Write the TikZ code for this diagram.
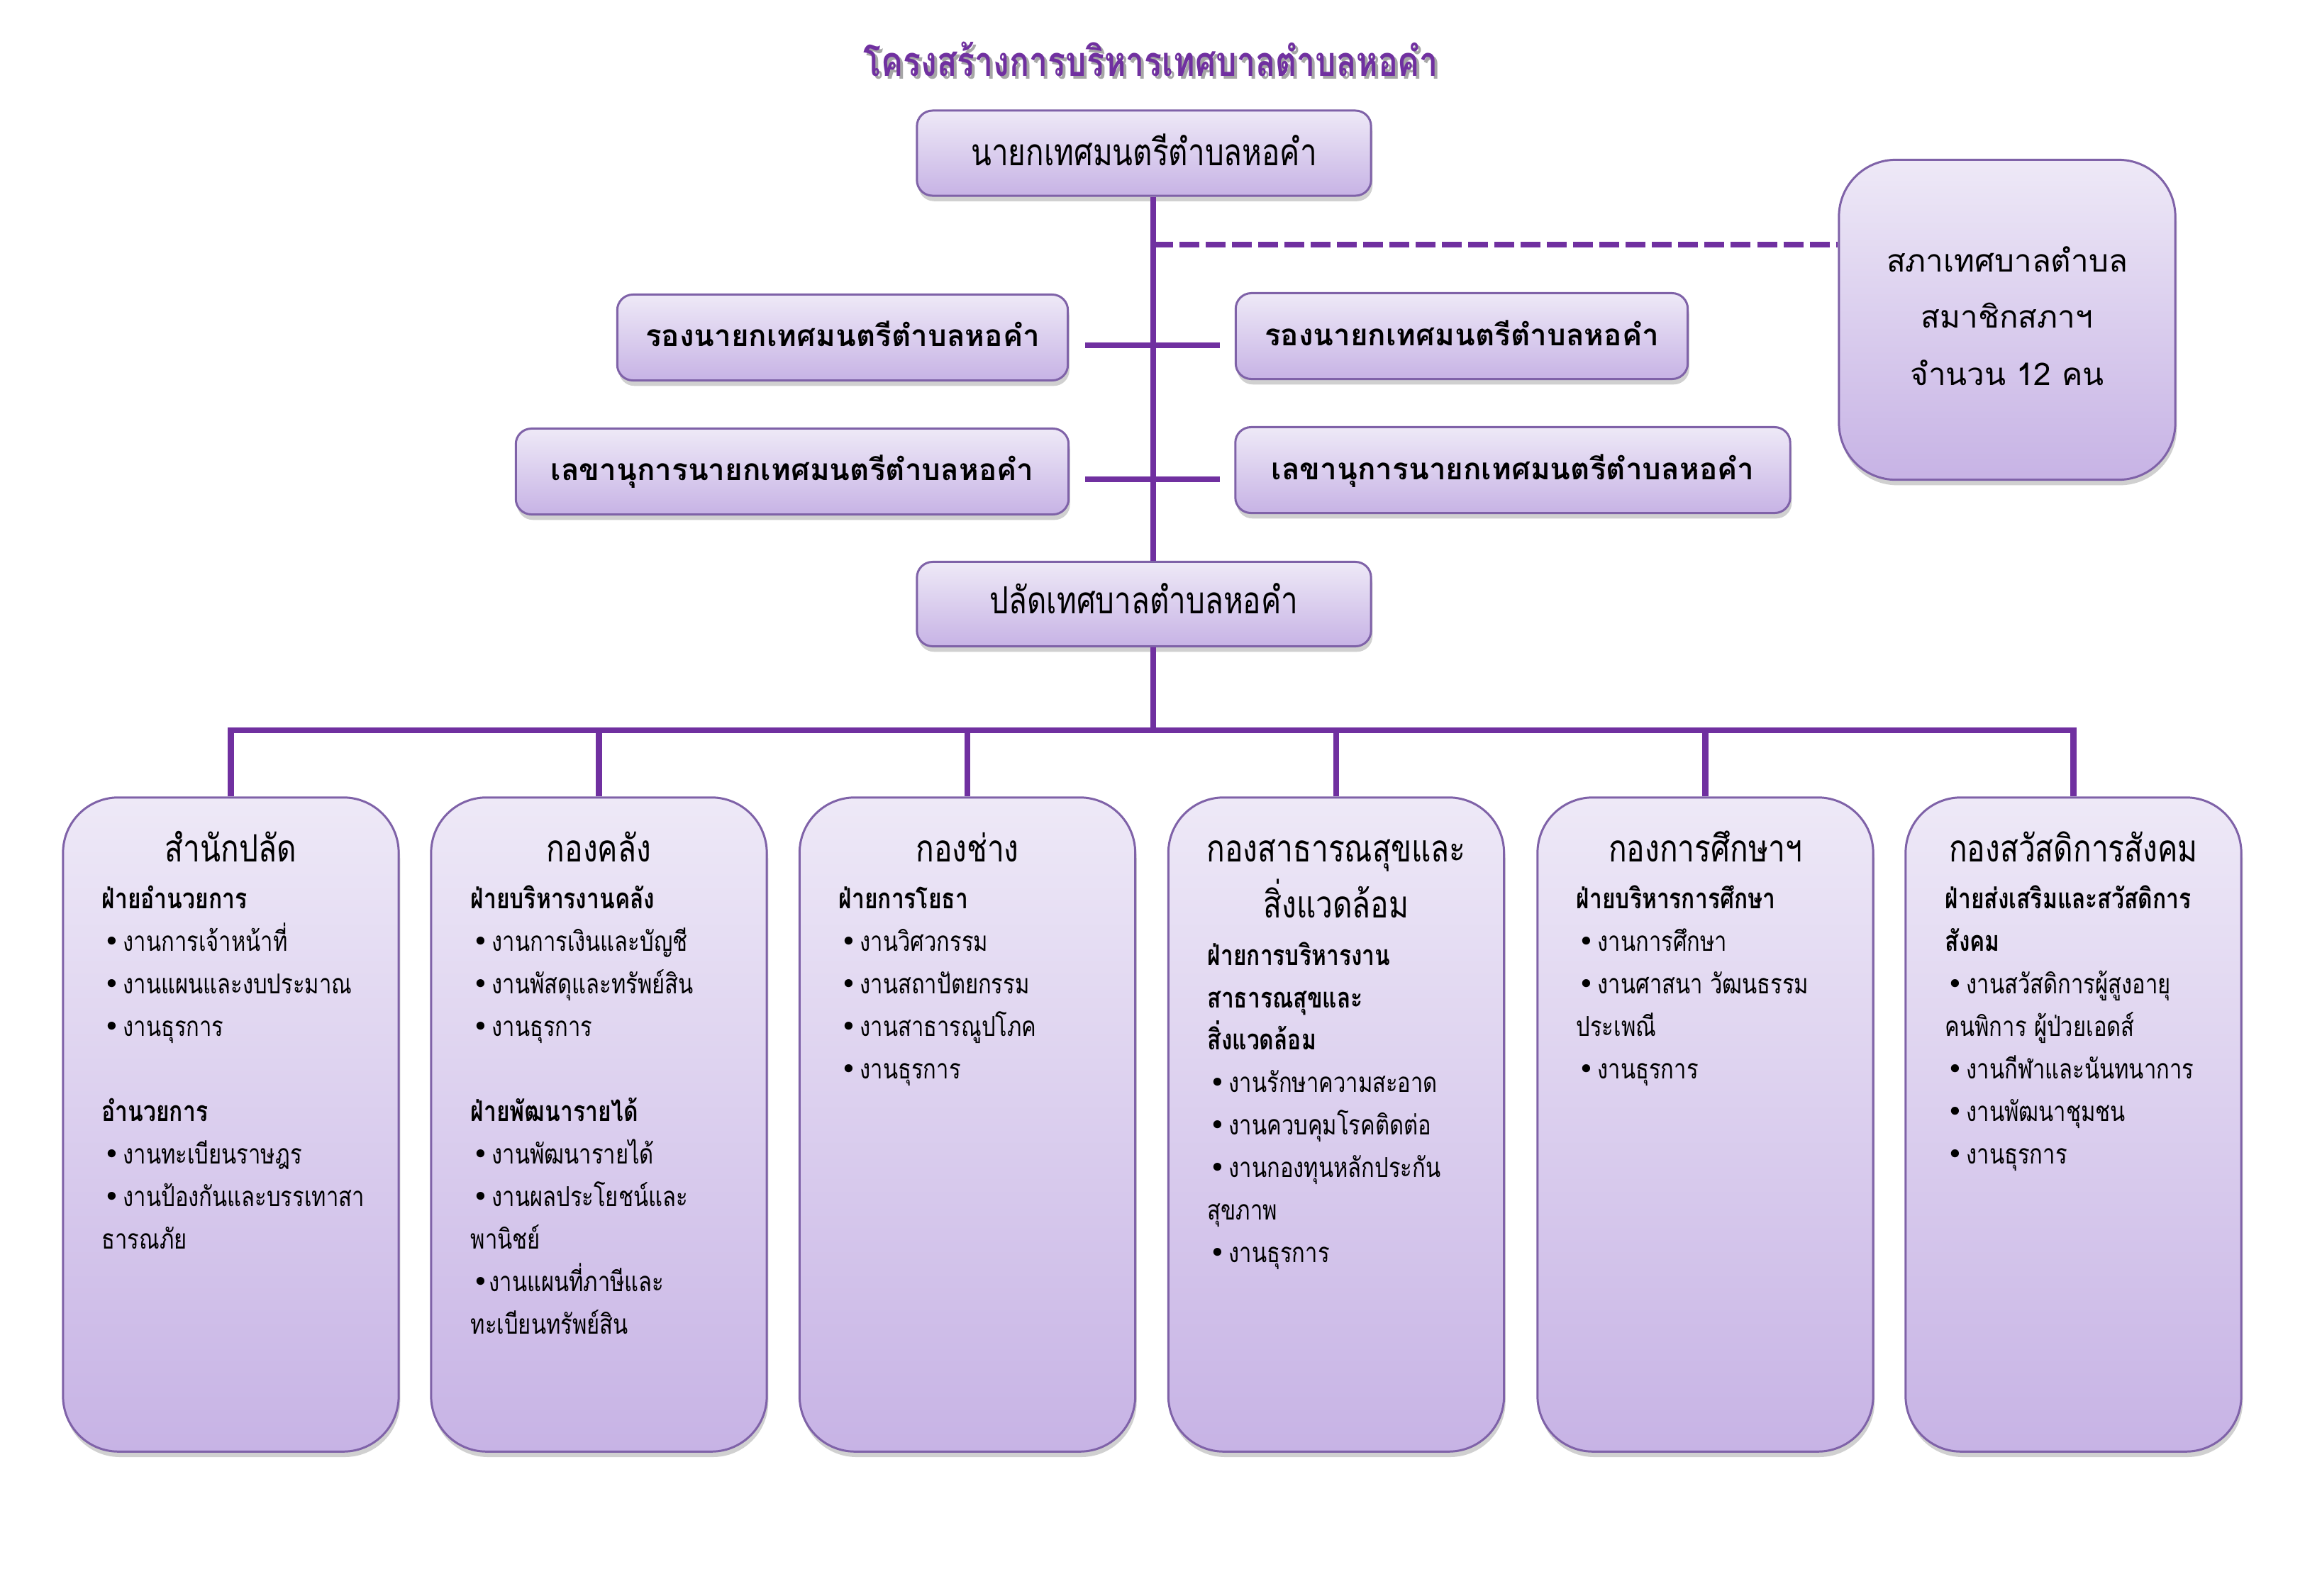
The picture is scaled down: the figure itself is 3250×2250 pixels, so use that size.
\documentclass[tikz,border=0pt]{standalone}
\usepackage{fontspec}
\usetikzlibrary{shadows}
\newfontfamily\thai[Script=Thai]{Loma}
\newfontfamily\thaic[Script=Thai,FakeStretch=0.8]{Loma}
\newfontfamily\dejavu{DejaVu Sans}
\definecolor{ln}{HTML}{7030A0}
\definecolor{bd}{HTML}{7F62A8}
\definecolor{ftop}{HTML}{EEE9F7}
\definecolor{fbot}{HTML}{C7B3E5}
\newcommand\bul{\makebox[0.27cm][l]{\dejavu\fontsize{11}{11}\selectfont •}}
\newcommand\rawbul{{\dejavu\fontsize{11}{11}\selectfont •}}
\tikzset{
  box/.style={rectangle, draw=bd, line width=0.85pt, top color=ftop, bottom color=fbot,
    drop shadow={shadow xshift=0.6pt, shadow yshift=-2.2pt, opacity=0.3, fill=black!60}, inner sep=0pt},
  smallbox/.style={box, rounded corners=0.22cm},
  bigbox/.style={box, rounded corners=0.8cm},
  deptbox/.style={box, rounded corners=0.78cm, minimum width=4.73cm, minimum height=9.22cm},
  conn/.style={draw=ln, line width=2.4pt},
  lbl/.style={inner sep=0pt, anchor=base},
  toptxt/.style={lbl, font=\thaic\fontsize{15}{18}\selectfont},
  deptxt/.style={lbl, font=\thai\bfseries\fontsize{12}{14}\selectfont},
  counciltxt/.style={lbl, font=\thai\fontsize{12.5}{15}\selectfont},
  depttitle/.style={lbl, font=\thaic\fontsize{15.1}{18}\selectfont},
  itemtxt/.style={inner sep=0pt, anchor=base west, font=\thaic\fontsize{11}{13}\selectfont},
  headtxt/.style={inner sep=0pt, anchor=base west, font=\thaic\bfseries\fontsize{11.3}{13}\selectfont},
}
\newcommand\itl[4]{\node[itemtxt] (#1) at (#2,#3) {#4};}
\newcommand\hdl[4]{\node[headtxt] (#1) at (#2,#3) {#4};}
\begin{document}
\begin{tikzpicture}[x=0.01cm,y=-0.01cm]
\fill[white] (0,0) rectangle (3250,2250);
\useasboundingbox (0,0) rectangle (3250,2250);

% title
\node[lbl, font=\thaic\bfseries\fontsize{16.5}{19}\selectfont, text=black!35] (ttlshadow) at (1627,111) {โครงสร้างการบริหารเทศบาลตำบลหอคำ};
\node[lbl, font=\thaic\bfseries\fontsize{16.5}{19}\selectfont, text=ln] (ttl) at (1623,107) {โครงสร้างการบริหารเทศบาลตำบลหอคำ};

% boxes
\node[smallbox, minimum width=6.40cm, minimum height=1.20cm] (mayor) at (1613,216) {};
\node[smallbox, minimum width=6.40cm, minimum height=1.19cm] (pal) at (1613,852) {};
\node[smallbox, minimum width=6.35cm, minimum height=1.21cm] (dl1) at (1188,476) {};
\node[smallbox, minimum width=6.37cm, minimum height=1.21cm] (dr1) at (2061,474) {};
\node[smallbox, minimum width=7.79cm, minimum height=1.21cm] (dl2) at (1117,665) {};
\node[smallbox, minimum width=7.82cm, minimum height=1.21cm] (dr2) at (2133,663) {};
\node[bigbox, minimum width=4.74cm, minimum height=4.51cm] (council) at (2830,451) {};

\node[deptbox] (d1) at (325.5,1586) {};
\node[deptbox] (d2) at (844.5,1586) {};
\node[deptbox] (d3) at (1364,1586) {};
\node[deptbox] (d4) at (1884,1586) {};
\node[deptbox] (d5) at (2404.5,1586) {};
\node[deptbox] (d6) at (2923.5,1586) {};

% connectors
\coordinate (spine) at (1626,0);
\coordinate (bus) at (1626,1030);
\coordinate (dashL) at (1626,345);
\draw[conn] (mayor.south -| spine) -- (pal.north -| spine);
\draw[conn, dash pattern=on 0.28cm off 0.09cm] (dashL) -- (council.west |- dashL);
\coordinate (xa1) at (1530,487); \coordinate (xb1) at (1720,487);
\coordinate (xa2) at (1530,676); \coordinate (xb2) at (1720,676);
\draw[conn] (xa1) -- (xb1);
\draw[conn] (xa2) -- (xb2);
\draw[conn] (pal.south -| spine) -- (spine |- bus);
\draw[conn] (d1.north) -- (d1.north |- bus) -- (d6.north |- bus) -- (d6.north);
\foreach \i in {2,3,4,5} { \draw[conn] (d\i.north |- bus) -- (d\i.north); }

% top texts
\node[toptxt] (mayortxt) at (1613,233) {นายกเทศมนตรีตำบลหอคำ};
\node[toptxt] (paltxt) at (1613,865) {ปลัดเทศบาลตำบลหอคำ};
\node[deptxt] (dl1txt) at (1188,488) {รองนายกเทศมนตรีตำบลหอคำ};
\node[deptxt] (dr1txt) at (2061,487) {รองนายกเทศมนตรีตำบลหอคำ};
\node[deptxt] (dl2txt) at (1117,677) {เลขานุการนายกเทศมนตรีตำบลหอคำ};
\node[deptxt] (dr2txt) at (2133,676) {เลขานุการนายกเทศมนตรีตำบลหอคำ};
\node[counciltxt] (cl1) at (2830,383) {สภาเทศบาลตำบล};
\node[counciltxt] (cl2) at (2830,462) {สมาชิกสภาฯ};
\node[counciltxt] (cl3) at (2830,543) {จำนวน 12 คน};

% department titles
\node[depttitle] (t1) at (325.5,1215) {สำนักปลัด};
\node[depttitle] (t2) at (844.5,1215) {กองคลัง};
\node[depttitle] (t3) at (1364,1215) {กองช่าง};
\node[depttitle] (t4a) at (1884,1215) {กองสาธารณสุขและ};
\node[depttitle] (t4b) at (1884,1294) {สิ่งแวดล้อม};
\node[depttitle] (t5) at (2404.5,1215) {กองการศึกษาฯ};
\node[depttitle] (t6) at (2923.5,1215) {กองสวัสดิการสังคม};

% dept 1
\hdl{a1}{143}{1281}{ฝ่ายอำนวยการ}
\itl{a2}{146}{1341}{\bul งานการเจ้าหน้าที่}
\itl{a3}{146}{1401}{\bul งานแผนและงบประมาณ}
\itl{a4}{146}{1461}{\bul งานธุรการ}
\hdl{a5}{143}{1581}{อำนวยการ}
\itl{a6}{146}{1641}{\bul งานทะเบียนราษฎร}
\itl{a7}{146}{1701}{\bul งานป้องกันและบรรเทาสา}
\itl{a8}{143}{1761}{ธารณภัย}

% dept 2
\hdl{b1}{663}{1281}{ฝ่ายบริหารงานคลัง}
\itl{b2}{666}{1341}{\bul งานการเงินและบัญชี}
\itl{b3}{666}{1401}{\bul งานพัสดุและทรัพย์สิน}
\itl{b4}{666}{1461}{\bul งานธุรการ}
\hdl{b5}{663}{1581}{ฝ่ายพัฒนารายได้}
\itl{b6}{666}{1641}{\bul งานพัฒนารายได้}
\itl{b7}{666}{1701}{\bul งานผลประโยชน์และ}
\itl{b8}{663}{1761}{พานิชย์}
\itl{b9}{666}{1821}{\rawbul งานแผนที่ภาษีและ}
\itl{b10}{663}{1881}{ทะเบียนทรัพย์สิน}

% dept 3
\hdl{c1}{1182}{1281}{ฝ่ายการโยธา}
\itl{c2}{1185}{1341}{\bul งานวิศวกรรม}
\itl{c3}{1185}{1401}{\bul งานสถาปัตยกรรม}
\itl{c4}{1185}{1461}{\bul งานสาธารณูปโภค}
\itl{c5}{1185}{1521}{\bul งานธุรการ}

% dept 4
\hdl{e1}{1702}{1361}{ฝ่ายการบริหารงาน}
\hdl{e2}{1702}{1421}{สาธารณสุขและ}
\hdl{e3}{1702}{1480}{สิ่งแวดล้อม}
\itl{e4}{1705}{1540}{\bul งานรักษาความสะอาด}
\itl{e5}{1705}{1600}{\bul งานควบคุมโรคติดต่อ}
\itl{e6}{1705}{1660}{\bul งานกองทุนหลักประกัน}
\itl{e7}{1702}{1720}{สุขภาพ}
\itl{e8}{1705}{1780}{\bul งานธุรการ}

% dept 5
\hdl{f1}{2222}{1281}{ฝ่ายบริหารการศึกษา}
\itl{f2}{2225}{1341}{\bul งานการศึกษา}
\itl{f3}{2225}{1401}{\bul งานศาสนา วัฒนธรรม}
\itl{f4}{2222}{1461}{ประเพณี}
\itl{f5}{2225}{1521}{\bul งานธุรการ}

% dept 6
\hdl{g1}{2742}{1281}{ฝ่ายส่งเสริมและสวัสดิการ}
\hdl{g2}{2742}{1341}{สังคม}
\itl{g3}{2745}{1401}{\bul งานสวัสดิการผู้สูงอายุ}
\itl{g4}{2742}{1461}{คนพิการ ผู้ป่วยเอดส์}
\itl{g5}{2745}{1521}{\bul งานกีฬาและนันทนาการ}
\itl{g6}{2745}{1581}{\bul งานพัฒนาชุมชน}
\itl{g7}{2745}{1641}{\bul งานธุรการ}
\end{tikzpicture}
\end{document}
